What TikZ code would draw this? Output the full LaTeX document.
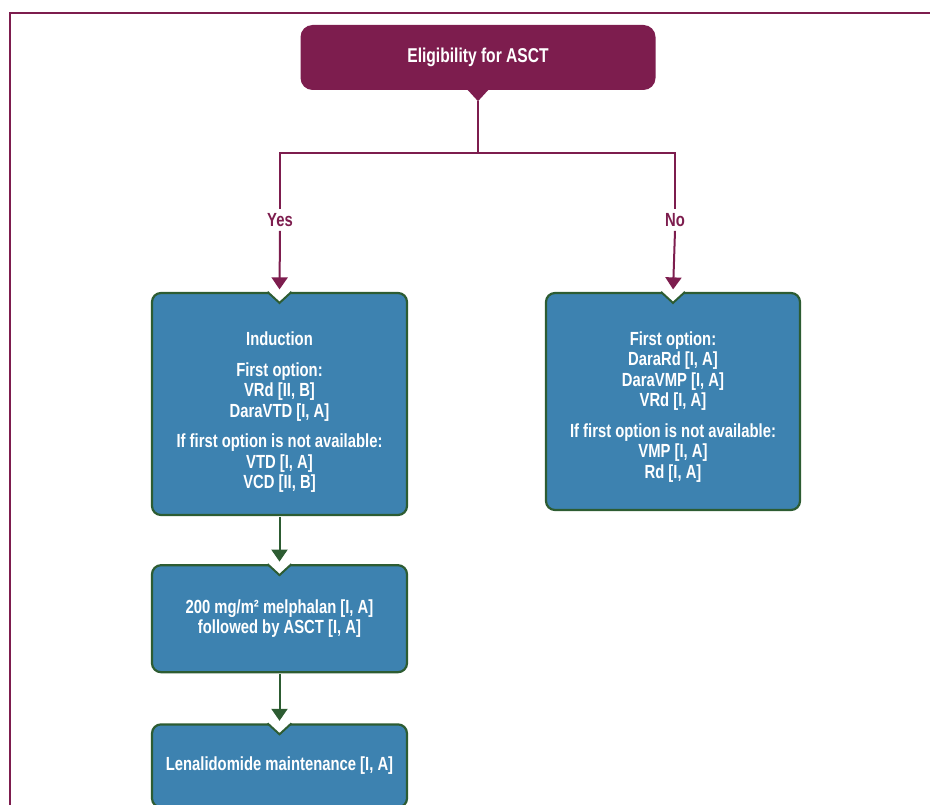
\documentclass[tikz,border=0pt]{standalone}
\usepackage{fontspec}
\setmainfont[FakeStretch=0.78]{Liberation Sans}
\usetikzlibrary{positioning, arrows.meta,
calc % for the notches
}
\definecolor{plum}{RGB}{125,29,78}
\definecolor{boxblue}{RGB}{61,130,176}
\definecolor{boxgreen}{RGB}{45,92,50}
\tikzset{%
  stepbox/.style={draw=boxgreen, line width=2.2pt, fill=boxblue, rounded corners=9pt,
    text=white, align=center, minimum width=255pt,
    font=\bfseries\fontsize{19}{20.5}\selectfont},
  titlebox/.style={fill=plum, rounded corners=12pt, text=white,
    minimum width=355pt, minimum height=65pt,
    font=\bfseries\fontsize{20}{22}\selectfont},
  answer/.style={text=plum, inner sep=4pt, font=\bfseries\fontsize{19}{20}\selectfont},
  plumline/.style={draw=plum, line width=2pt},
  greenline/.style={draw=boxgreen, line width=2pt},
  tipped/.style={-{Triangle[width=16pt,length=12pt]}, shorten >=2.5pt}
}
% white V cut into the top edge of a box
\newcommand\notchbox[1]{%
  \fill[white] ($(#1.north)+(-13,-2)$) -- ($(#1.north)+(0,11)$) -- ($(#1.north)+(13,-2)$) -- cycle;
  \draw[greenline, line join=miter] ($(#1.north)+(-12,0)$) -- ($(#1.north)+(0,11)$) -- ($(#1.north)+(12,0)$);
}
\begin{document}
\begin{tikzpicture}[x=1pt, y=-1pt]
\useasboundingbox (0,0) rectangle (930,805);
\clip (0,0) rectangle (930,805);

\draw[plum, line width=2pt] (930,13) -- (10,13) -- (10,805);

\node[titlebox] (elig) at (478,57.5) {Eligibility for ASCT};
\coordinate (tip) at ($(elig.south)+(0,11)$);
\fill[plum] ($(elig.south)+(-11,-1)$) -- (tip) -- ($(elig.south)+(11,-1)$) -- cycle;
\coordinate (split) at (478,153);

\node[answer] (yes) at (280,220) {Yes};
\node[answer] (no) at (675,220) {No};

\node[stepbox, minimum height=222pt] (induct) at (279.5,404)
  {\rule{0pt}{30pt}Induction\\[10pt]
   First option:\\ VRd [II, B]\\ DaraVTD [I, A]\\[10pt]
   If first option is not available:\\ VTD [I, A]\\ VCD [II, B]};
\node[stepbox, minimum width=254pt, minimum height=217pt] (nonelig) at (673,401.5)
  {\rule{0pt}{24pt}First option:\\ DaraRd [I, A]\\ DaraVMP [I, A]\\ VRd [I, A]\\[10pt]
   If first option is not available:\\ VMP [I, A]\\ Rd [I, A]};
\node[stepbox, minimum height=107pt, below=48pt of induct] (melph)
  {200 mg/m² melphalan [I, A]\\ followed by ASCT [I, A]};
\node[stepbox, minimum height=83pt, below=50pt of melph] (lenal)
  {Lenalidomide maintenance [I, A]};

\notchbox{induct}
\notchbox{nonelig}
\notchbox{melph}
\notchbox{lenal}

\draw[plumline] (tip) -- (split);
\draw[plumline] (split) -| (yes.north);
\draw[plumline] (split) -| (no.north);
\draw[plumline, tipped] (yes.south) -- (induct.north);
\draw[plumline, tipped] (no.south) -- (nonelig.north);
\draw[greenline, tipped, shorten <=1pt] (induct.south) -- (melph.north);
\draw[greenline, tipped, shorten <=1pt] (melph.south) -- (lenal.north);
\end{tikzpicture}
\end{document}
